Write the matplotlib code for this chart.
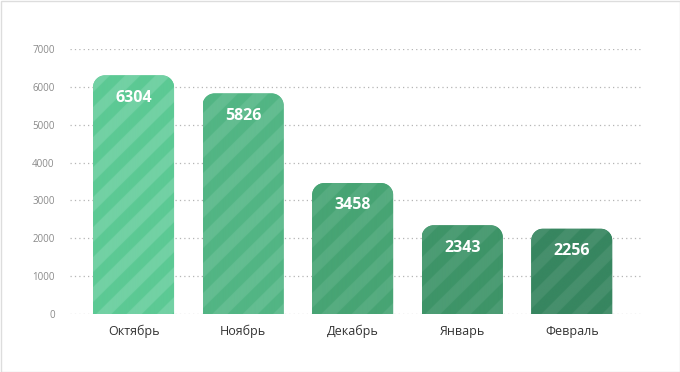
import numpy as np
import matplotlib
matplotlib.use("Agg")
import matplotlib.pyplot as plt
from matplotlib.path import Path
from matplotlib.patches import PathPatch, Rectangle
from matplotlib.colors import to_rgba

plt.rcParams['font.family'] = ['Open Sans', 'DejaVu Sans']

# Data
months = ["Октябрь", "Ноябрь", "Декабрь", "Январь", "Февраль"]
values = [6304, 5826, 3458, 2343, 2256]
base_colors = ["#5cc994", "#52b584", "#47a474", "#3e9468", "#378660"]
stripe_colors = ["#72d1a4", "#63bd91", "#56ac80", "#4c9c74", "#468f6c"]

fig = plt.figure(figsize=(6.8, 3.72), dpi=100)
ax = fig.add_axes([70 / 680, 58 / 372, 573 / 680, 265 / 372])

ax.set_xlim(-0.58, 4.65)
ax.set_ylim(0, 7000)

# gridlines
ax.set_yticks(range(0, 7001, 1000))
ax.yaxis.grid(True, linestyle=(0, (1, 2.5)), color="#b5b5b5", linewidth=0.9)
ax.set_axisbelow(True)
for s in ax.spines.values():
    s.set_visible(False)
ax.tick_params(axis="y", length=0, pad=11, labelsize=7, labelcolor="#8a8a8a")
ax.tick_params(axis="x", length=0, pad=8, labelsize=9, labelcolor="#333333")

x = np.arange(len(months))
bars = ax.bar(x, values, width=0.74, color=base_colors, zorder=2)
ax.set_xticks(x)
ax.set_xticklabels(months)

# pixel -> data scale for the corner radius
px_x = (4.65 + 0.58) / 573
px_y = 7000 / 265
r = 12


def rounded_top(x0, w, h):
    rx, ry = r * px_x, r * px_y
    k = 0.5523
    verts = [
        (x0, 0), (x0, h - ry),
        (x0, h - ry + k * ry), (x0 + rx - k * rx, h), (x0 + rx, h),
        (x0 + w - rx, h),
        (x0 + w - rx + k * rx, h), (x0 + w, h - ry + k * ry), (x0 + w, h - ry),
        (x0 + w, 0), (x0, 0),
    ]
    codes = [Path.MOVETO, Path.LINETO,
             Path.CURVE4, Path.CURVE4, Path.CURVE4,
             Path.LINETO,
             Path.CURVE4, Path.CURVE4, Path.CURVE4,
             Path.LINETO, Path.CLOSEPOLY]
    return Path(verts, codes)


for bar, c1, c2, v in zip(bars, base_colors, stripe_colors, values):
    x0, w, h = bar.get_x(), bar.get_width(), bar.get_height()
    clip = PathPatch(rounded_top(x0, w, h), transform=ax.transData,
                     facecolor="none", edgecolor="none")
    ax.add_patch(clip)
    bar.set_clip_path(clip)

    # diagonal stripes
    wp = int(round(w / px_x)) * 3
    hp = int(round(h / px_y)) * 3
    ii, jj = np.mgrid[0:hp, 0:wp]
    mask = ((ii + jj + int(h / px_y) * 3) // 45) % 2 == 0
    img = np.zeros((hp, wp, 4))
    img[:] = to_rgba(c1)
    img[mask] = to_rgba(c2)
    im = ax.imshow(img, extent=(x0, x0 + w, 0, h), aspect="auto",
                   interpolation="bilinear", zorder=3, origin="upper")
    im.set_clip_path(clip)

    ax.annotate(str(v), (x0 + w / 2, h), xytext=(0, -16), textcoords="offset points",
                ha="center", va="center", color="white", fontsize=11.5,
                fontweight="bold", zorder=4)

ax.set_xlim(-0.58, 4.65)
ax.set_ylim(0, 7000)

# light border around the figure
fig.patches.append(Rectangle((0.5 / 680, 0.5 / 372), 679 / 680, 371 / 372,
                             transform=fig.transFigure, fill=False,
                             edgecolor="#dddddd", linewidth=1))

fig.savefig("out.png", dpi=100)
